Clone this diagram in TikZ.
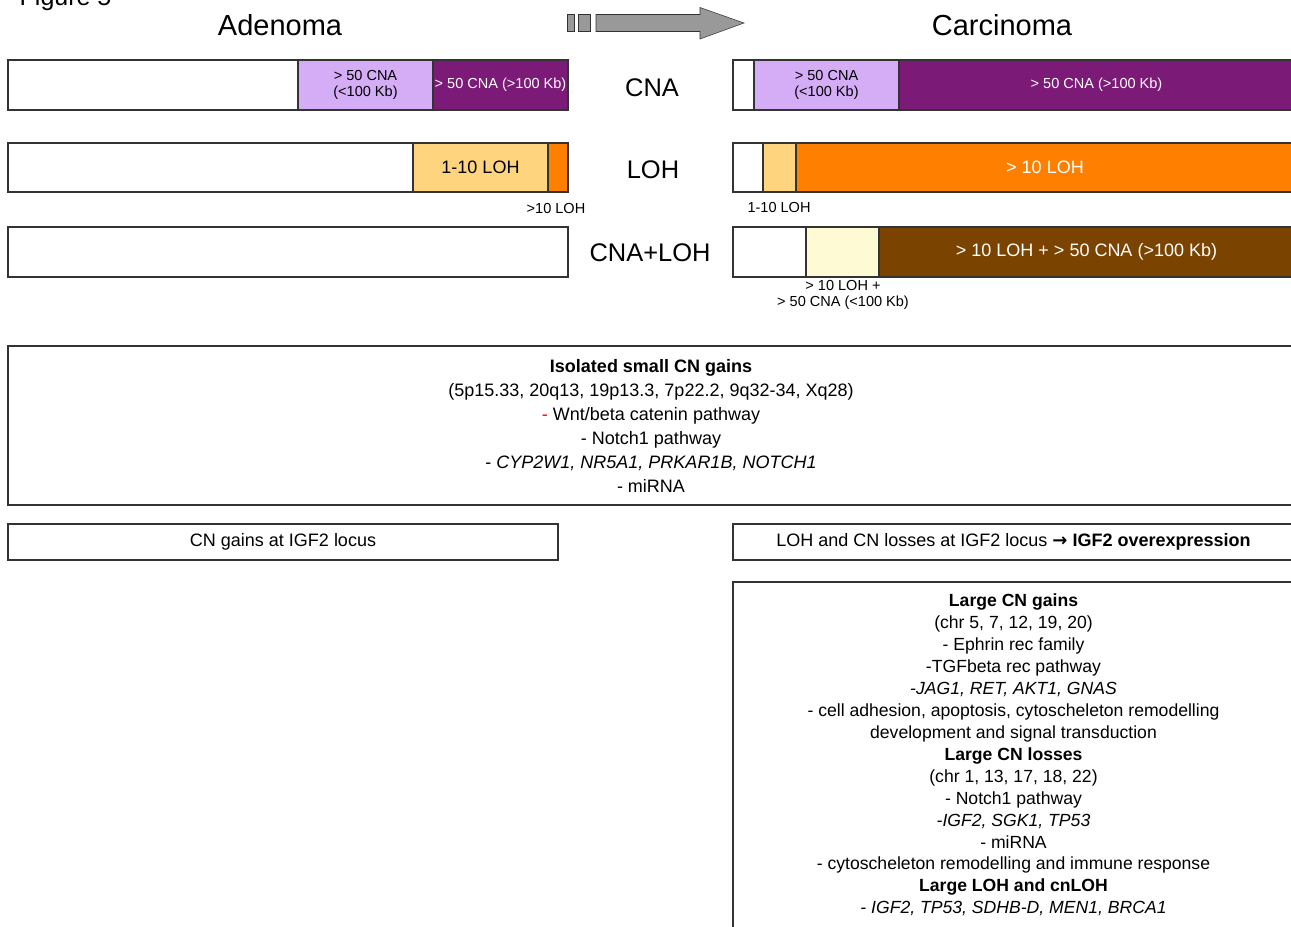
\documentclass[tikz,border=0pt]{standalone}
\usepackage{fontspec}
\setmainfont{Liberation Sans}
\newfontfamily\arrowfont{DejaVu Sans}
\usetikzlibrary{positioning}
\definecolor{lav}{HTML}{D5ADF7}
\definecolor{plum}{HTML}{7B1A77}
\definecolor{apricot}{HTML}{FFD47E}
\definecolor{tang}{HTML}{FF7F00}
\definecolor{cream}{HTML}{FEFBD4}
\definecolor{umber}{HTML}{7A4400}
\definecolor{arrgray}{HTML}{999999}
\definecolor{edge}{HTML}{333333}

\begin{document}
\begin{tikzpicture}[x=0.75pt,y=-0.75pt,
  seg/.style={draw=edge,thick,inner sep=0pt,align=center,font=\fontsize{10.9}{12}\selectfont},
  row1/.style={seg,minimum height=37.5pt},
  row2/.style={seg,minimum height=36.75pt},
  big/.style={seg,font=\fontsize{13.5}{15}\selectfont},
  head/.style={font=\fontsize{21.75}{24}\selectfont},
  rowlab/.style={font=\fontsize{19.1}{22}\selectfont},
  note/.style={font=\fontsize{10.9}{12}\selectfont,align=center},
  panel/.style={draw=edge,thick,inner sep=0pt,align=center},
  panelA/.style={panel,font=\fontsize{13.5}{18}\selectfont},
  panelB/.style={panel,font=\fontsize{13.2}{16.45}\selectfont}]
\clip (0,0) rectangle (1291,926);
\fill[white] (0,0) rectangle (1291,926);
% titles
\node[anchor=base west,font=\fontsize{18.75}{20}\selectfont] (fig) at (15,5) {Figure 5};
\node[head] (aden) at (280,25) {Adenoma};
\node[head] (carc) at (1002,25) {Carcinoma};
\draw[draw=edge,fill=arrgray] (567,14.5) rectangle (574.5,31.5);
\draw[draw=edge,fill=arrgray] (578.5,14.5) rectangle (590.5,31.5);
\draw[draw=edge,fill=arrgray] (596,14.5) -- (700,14.5) -- (700,7.5) -- (744,23) -- (700,39) -- (700,31.5) -- (596,31.5) -- cycle;
% CNA row
\node[row1,fill=white,minimum width=217.5pt] (a1w) at (153,85) {};
\node[row1,fill=lav,minimum width=101.25pt] (a1l) at (365.5,85) {> 50 CNA\\(<100 Kb)};
\node[row1,fill=plum,text=white,minimum width=101.25pt] (a1p) at (500.5,85) {> 50 CNA (>100 Kb)};
\node[rowlab] (cna) at (652,88) {CNA};
\node[row1,fill=white,minimum width=15.75pt] (c1w) at (743.5,85) {};
\node[row1,fill=lav,minimum width=108.75pt] (c1l) at (826.5,85) {> 50 CNA\\(<100 Kb)};
\node[row1,fill=plum,text=white,minimum width=296.25pt] (c1p) at (1096.5,85) {> 50 CNA (>100 Kb)};
% LOH row
\node[row2,fill=white,minimum width=303.75pt] (a2w) at (210.5,167.5) {};
\node[row2,big,fill=apricot,minimum width=101.25pt] (a2o) at (480.5,167.5) {1-10 LOH};
\node[row2,fill=tang,minimum width=15pt] (a2r) at (558,167.5) {};
\node[rowlab] (loh) at (653,170) {LOH};
\node[row2,fill=white,minimum width=22.5pt] (c2w) at (748,167.5) {};
\node[row2,fill=apricot,minimum width=24.75pt] (c2o) at (779.5,167.5) {};
\node[row2,big,fill=tang,text=white,minimum width=373.5pt] (c2r) at (1045,167.5) {> 10 LOH};
\node[note] (a2note) at (556,208) {>10 LOH};
\node[note] (c2note) at (779,207) {1-10 LOH};
% CNA+LOH row
\node[row1,fill=white,minimum width=420pt] (a3w) at (288,252) {};
\node[rowlab] (both) at (650,253) {CNA+LOH};
\node[row1,fill=white,minimum width=54.75pt] (c3w) at (769.5,252) {};
\node[row1,fill=cream,minimum width=54.75pt] (c3y) at (842.5,252) {};
\node[row1,big,fill=umber,text=white,minimum width=311.25pt] (c3b) at (1086.5,252) {> 10 LOH + > 50 CNA (>100 Kb)};
\node[note,font=\fontsize{10.9}{12.5}\selectfont] (c3note) at (843,295) {> 10 LOH +\\> 50 CNA (<100 Kb)};
% panels
\node[panelA,minimum width=964.5pt,minimum height=119.25pt] (small) at (651,425.5) {\textbf{Isolated small CN gains}\\
  (5p15.33, 20q13, 19p13.3, 7p22.2, 9q32-34, Xq28)\\
  \textcolor{red}{-} Wnt/beta catenin pathway\\
  - Notch1 pathway\\
  - \textit{CYP2W1, NR5A1, PRKAR1B, NOTCH1}\\
  - miRNA};
\node[panelA,minimum width=412.5pt,minimum height=27pt] (igfa) at (283,542) {CN gains at IGF2 locus};
\node[panelA,minimum width=420.75pt,minimum height=27pt] (igfc) at (1013.5,542) {LOH and CN losses at IGF2 locus {\arrowfont\bfseries →} \textbf{IGF2 overexpression}};
\node[panelB,minimum width=420.75pt,minimum height=259.5pt] (large) at (1013.5,755) {\textbf{Large CN gains}\\
  (chr 5, 7, 12, 19, 20)\\
  - Ephrin rec family\\
  -TGFbeta rec pathway\\
  \textit{-JAG1, RET, AKT1, GNAS}\\
  - cell adhesion, apoptosis, cytoscheleton remodelling\\
  development and signal transduction\\
  \textbf{Large CN losses}\\
  (chr 1, 13, 17, 18, 22)\\
  - Notch1 pathway\\
  \textit{-IGF2, SGK1, TP53}\\
  - miRNA\\
  - cytoscheleton remodelling and immune response\\
  \textbf{Large LOH and cnLOH}\\
  \textit{- IGF2, TP53, SDHB-D, MEN1, BRCA1}};
\end{tikzpicture}
\end{document}
